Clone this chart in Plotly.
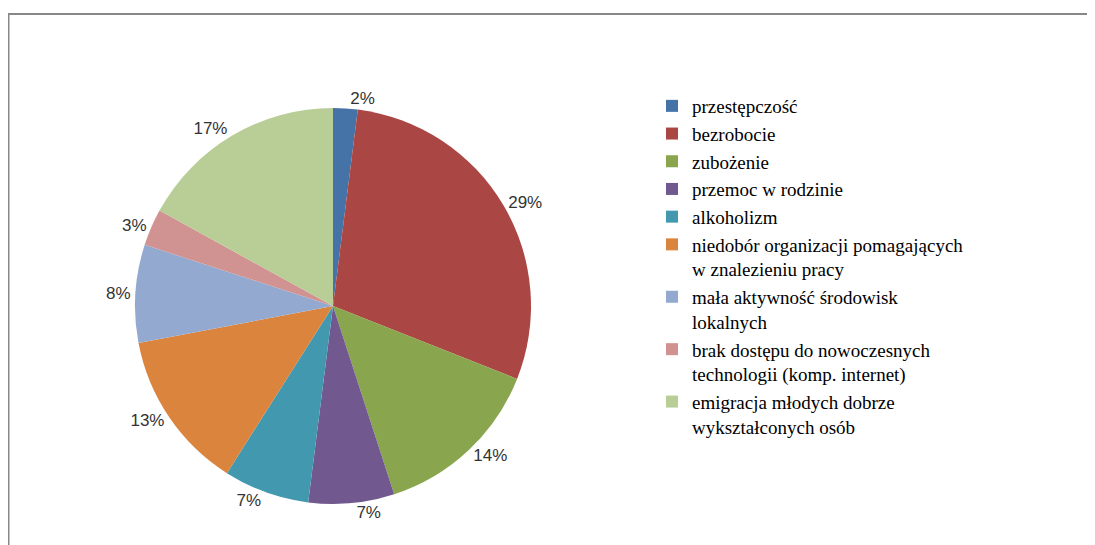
import plotly.graph_objects as go

labels = [
    "przestępczość",
    "bezrobocie",
    "zubożenie",
    "przemoc w rodzinie",
    "alkoholizm",
    "niedobór organizacji pomagających<br>w znalezieniu pracy",
    "mała aktywność środowisk<br>lokalnych",
    "brak dostępu do nowoczesnych<br>technologii (komp. internet)",
    "emigracja młodych dobrze<br>wykształconych osób",
]
values = [2, 29, 14, 7, 7, 13, 8, 3, 17]
colors = ["#4572A7", "#AA4643", "#89A54E", "#71588F", "#4198AF",
          "#DB843D", "#93A9CF", "#D19392", "#B9CD96"]

W, H = 1095, 545
OFF = 8  # page body margin offset
cx, cy = (333 - OFF) / W, 1 - (306 - OFF) / H
rx, ry = 0.215, 198 / H

fig = go.Figure(go.Pie(
    labels=labels,
    values=values,
    sort=False,
    direction="clockwise",
    rotation=0,
    marker=dict(colors=colors, line=dict(width=0)),
    textinfo="percent",
    texttemplate="%{percent:.0%}",
    textposition="outside",
    outsidetextfont=dict(family="Liberation Sans, Arial, sans-serif", size=17, color="#333333"),
    domain=dict(x=[cx - rx, cx + rx], y=[cy - ry, cy + ry]),
    showlegend=True,
))

fig.update_layout(
    width=W, height=H,
    margin=dict(l=0, r=0, t=0, b=0),
    paper_bgcolor="white",
    legend=dict(
        x=(652 - OFF) / W, y=1 - (87 - OFF) / H, xanchor="left", yanchor="top",
        font=dict(family="Liberation Serif, Times New Roman, serif", size=19, color="#000000"),
        bgcolor="rgba(0,0,0,0)",
        valign="top",
    ),
    shapes=[dict(
        type="rect", xref="paper", yref="paper",
        x0=0.5 / W, x1=1.05, y0=-0.05, y1=1 - 6 / H,
        line=dict(color="#888888", width=2),
        fillcolor="rgba(0,0,0,0)",
        layer="below",
    )],
)

fig.write_html("out.html")
